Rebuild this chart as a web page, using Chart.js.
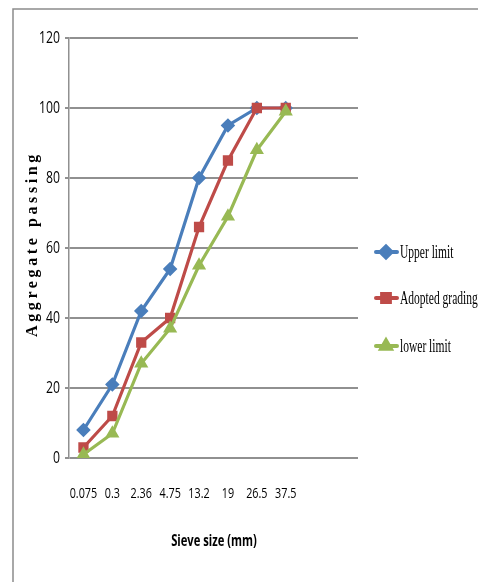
<!DOCTYPE html>
<html><head><meta charset="utf-8">
<script src="https://cdn.jsdelivr.net/npm/chart.js@4"></script>
<style>html,body{margin:0;padding:0;background:#fff}#w{width:478px;height:582px}</style>
</head><body><div id="w"><canvas id="c" width="478" height="582"></canvas></div>
<script>
const categories = ['0.075','0.3','2.36','4.75','13.2','19','26.5','37.5','',''];
const upperLimit = [8, 21, 42, 54, 80, 95, 100, 100];
const adoptedGrading = [3, 12, 33, 40, 66, 85, 100, 100];
const lowerLimit = [1, 7, 27, 37, 55, 69, 88, 99];
const yTicks = [0, 20, 40, 60, 80, 100, 120];
const seriesNames = ['Upper limit', 'Adopted grading', 'lower limit'];
const colors = ['#4a7ebb', '#be4b48', '#98b954'];
const styles = ['rectRot', 'rect', 'triangle'];
const sans = '"Open Sans", "Liberation Sans", sans-serif';
const serifN = '"Liberation Serif", "DejaVu Serif", serif';

function narrowText(ctx, text, x, y, sx, align) {
  ctx.save();
  ctx.translate(x, y);
  ctx.scale(sx, 1);
  ctx.textAlign = align;
  ctx.fillText(text, 0, 0);
  ctx.restore();
}

const framePlugin = {
  id: 'frame',
  beforeDraw(chart) {
    const ctx = chart.ctx;
    ctx.save();
    ctx.fillStyle = '#fff';
    ctx.fillRect(0, 0, 478, 582);
    ctx.strokeStyle = '#8c8c8c';
    ctx.lineWidth = 1.5;
    ctx.beginPath();
    ctx.moveTo(13, 582); ctx.lineTo(13, 9); ctx.lineTo(478, 9);
    ctx.stroke();
    ctx.restore();
  },
  afterDraw(chart) {
    const ctx = chart.ctx;
    const xs = chart.scales.x, ys = chart.scales.y;
    ctx.save();
    ctx.fillStyle = '#000';
    ctx.textBaseline = 'middle';
    ctx.font = '17px ' + sans;
    ys.ticks.forEach(t => narrowText(ctx, String(t.value), 60, ys.getPixelForValue(t.value), 0.72, 'right'));
    ctx.font = '15px ' + sans;
    categories.forEach((c, i) => { if (c) narrowText(ctx, c, xs.getPixelForValue(i), 494, 0.72, 'center'); });
    ctx.font = 'bold 16px ' + sans;
    narrowText(ctx, 'Sieve size (mm)', 214, 541, 0.7, 'center');
    ctx.restore();
    // y title
    ctx.save();
    ctx.translate(33, 244);
    ctx.rotate(-Math.PI / 2);
    ctx.fillStyle = '#000';
    ctx.font = 'bold 16px ' + serifN;
    ctx.letterSpacing = '3.6px';
    ctx.textAlign = 'center';
    ctx.textBaseline = 'middle';
    ctx.fillText('Aggregate passing', 0, 0);
    ctx.restore();
    // legend
    ctx.save();
    const ly = [252, 298, 346];
    chart.data.datasets.forEach((ds, i) => {
      const y = ly[i];
      ctx.strokeStyle = ds.borderColor;
      ctx.lineWidth = 4;
      ctx.lineCap = 'round';
      ctx.beginPath(); ctx.moveTo(376, y); ctx.lineTo(397, y); ctx.stroke();
      ctx.fillStyle = ds.borderColor;
      ctx.strokeStyle = ds.borderColor;
      Chart.helpers.drawPoint(ctx, {pointStyle: ds.pointStyle, radius: 5.5, borderWidth: 1}, 386, y);
      ctx.fillStyle = '#000';
      ctx.font = '18px ' + serifN;
      ctx.textBaseline = 'middle';
      narrowText(ctx, seriesNames[i], 400, y + 1, 0.64, 'left');
    });
    ctx.restore();
  }
};

new Chart(document.getElementById('c'), {
  type: 'line',
  data: {
    labels: categories,
    datasets: [upperLimit, adoptedGrading, lowerLimit].map((d, i) => ({
      label: seriesNames[i],
      data: d,
      order: 2 - i,
      borderColor: colors[i],
      backgroundColor: colors[i],
      pointBackgroundColor: colors[i],
      pointBorderColor: colors[i],
      pointStyle: styles[i],
      pointRadius: 5,
      borderWidth: 3.2,
      tension: 0,
      fill: false
    }))
  },
  options: {
    responsive: false,
    animation: false,
    devicePixelRatio: 1,
    layout: { padding: { left: 0, top: 38, right: 120, bottom: 0 } },
    plugins: { legend: { display: false }, tooltip: { enabled: false } },
    scales: {
      x: {
        offset: true,
        grid: { display: false, drawTicks: false },
        border: { display: false },
        ticks: { display: false },
        afterFit(s) { s.height = 124; }
      },
      y: {
        min: 0, max: 120,
        afterBuildTicks(s) { s.ticks = yTicks.map(v => ({ value: v })); },
        grid: { color: '#909090', lineWidth: 2, tickLength: 4 },
        border: { color: '#909090', width: 1.5 },
        ticks: { display: false },
        afterFit(s) { s.width = 69; }
      }
    }
  },
  plugins: [framePlugin]
});
</script>
</body></html>
